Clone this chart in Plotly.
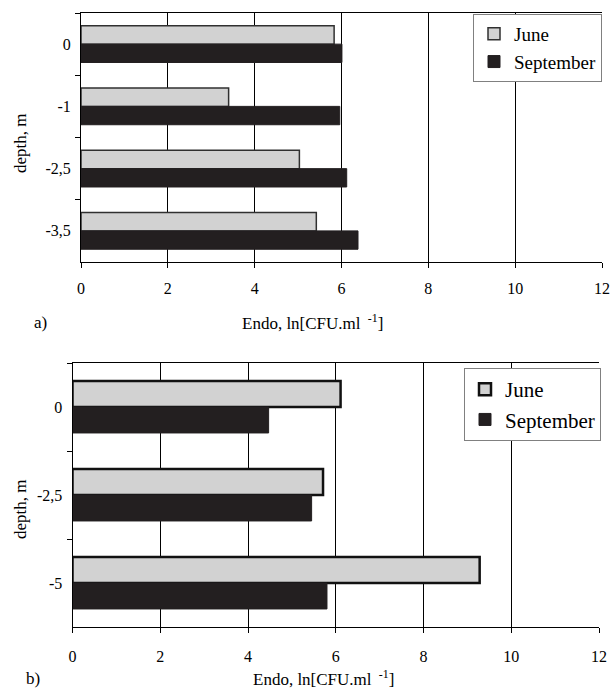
import plotly.graph_objects as go

W, H = 610, 691

# ---- data ----
depth_a = ["0", "-1", "-2,5", "-3,5"]
june_a = [5.83, 3.40, 5.03, 5.42]
sept_a = [6.01, 5.96, 6.12, 6.38]

depth_b = ["0", "-2,5", "-5"]
june_b = [6.11, 5.71, 9.28]
sept_b = [4.47, 5.45, 5.80]

x_ticks = [0, 2, 4, 6, 8, 10, 12]
series_names = ["June", "September"]

GRAY = "#d2d2d2"
BLACK = "#231f20"
FONT = "Liberation Serif"


def px_x(x):
    return x / W


def px_y(y):
    return 1 - y / H


fig = go.Figure()

# panel a
fig.add_trace(go.Bar(y=depth_a, x=june_a, orientation="h", name=series_names[0],
                     marker=dict(color=GRAY, line=dict(color="#303030", width=1.5)),
                     xaxis="x", yaxis="y", legend="legend"))
fig.add_trace(go.Bar(y=depth_a, x=sept_a, orientation="h", name=series_names[1],
                     marker=dict(color=BLACK, line=dict(color=BLACK, width=1)),
                     xaxis="x", yaxis="y", legend="legend"))
# panel b
fig.add_trace(go.Bar(y=depth_b, x=june_b, orientation="h", name=series_names[0],
                     marker=dict(color=GRAY, line=dict(color="#111111", width=2.5)),
                     xaxis="x2", yaxis="y2", legend="legend2"))
fig.add_trace(go.Bar(y=depth_b, x=sept_b, orientation="h", name=series_names[1],
                     marker=dict(color=BLACK, line=dict(color=BLACK, width=1)),
                     xaxis="x2", yaxis="y2", legend="legend2"))

xaxis_common = dict(range=[0, 12], tickvals=x_ticks, showgrid=True, gridcolor="black",
                    gridwidth=1, showline=True, linecolor="black", linewidth=1,
                    mirror=True, ticks="outside", ticklen=5, tickcolor="black",
                    tickfont=dict(family=FONT, size=16, color="black"), zeroline=False,
                    fixedrange=True)
yaxis_common = dict(type="category", autorange="reversed", showgrid=False,
                    showline=True, linecolor="black", linewidth=1,
                    ticks="outside", ticklen=5, tickcolor="black", tickson="boundaries",
                    tickfont=dict(family=FONT, size=16, color="black"), zeroline=False,
                    ticklabelstandoff=6)

fig.update_layout(
    width=W, height=H,
    margin=dict(l=0, r=0, t=0, b=0, autoexpand=False),
    paper_bgcolor="white", plot_bgcolor="white",
    barmode="group", bargap=0.41, bargroupgap=0.0,
    font=dict(family=FONT, color="black"),
    xaxis=dict(domain=[px_x(81), px_x(602)], anchor="y", ticklabelstandoff=7, **xaxis_common),
    yaxis=dict(domain=[px_y(262), px_y(13)], anchor="x", categoryarray=depth_a,
               categoryorder="array", **yaxis_common),
    xaxis2=dict(domain=[px_x(72.5), px_x(599)], anchor="y2", ticklabelstandoff=10, **xaxis_common),
    yaxis2=dict(domain=[px_y(627), px_y(363)], anchor="x2", categoryarray=depth_b,
                categoryorder="array", **yaxis_common),
    legend=dict(x=px_x(602), y=px_y(14), xanchor="right", yanchor="top",
                bordercolor="#808080", borderwidth=1, bgcolor="white",
                font=dict(family=FONT, size=19, color="black"), traceorder="normal"),
    legend2=dict(x=px_x(601), y=px_y(368), xanchor="right", yanchor="top",
                 bordercolor="#808080", borderwidth=1, bgcolor="white",
                 font=dict(family=FONT, size=21, color="black"), traceorder="normal"),
    showlegend=True,
)

ann_font = dict(family=FONT, size=17, color="black")
annotations = [
    dict(text="Endo, ln[CFU.ml <sup> -1</sup>]", x=px_x(313), y=px_y(322)),
    dict(text="a)", x=px_x(40), y=px_y(322)),
    dict(text="Endo, ln[CFU.ml <sup> -1</sup>]", x=px_x(323), y=px_y(678)),
    dict(text="b)", x=px_x(33), y=px_y(678)),
    dict(text="depth, m", x=px_x(20), y=px_y(143), textangle=-90),
    dict(text="depth, m", x=px_x(20), y=px_y(509), textangle=-90),
]
for a in annotations:
    fig.add_annotation(xref="paper", yref="paper", showarrow=False,
                       xanchor="center", yanchor="middle", font=ann_font, **a)

fig.write_html(
    "out.html",
    config=dict(displayModeBar=False),
    post_script="document.body.style.margin='0';document.body.style.overflow='hidden';",
)
